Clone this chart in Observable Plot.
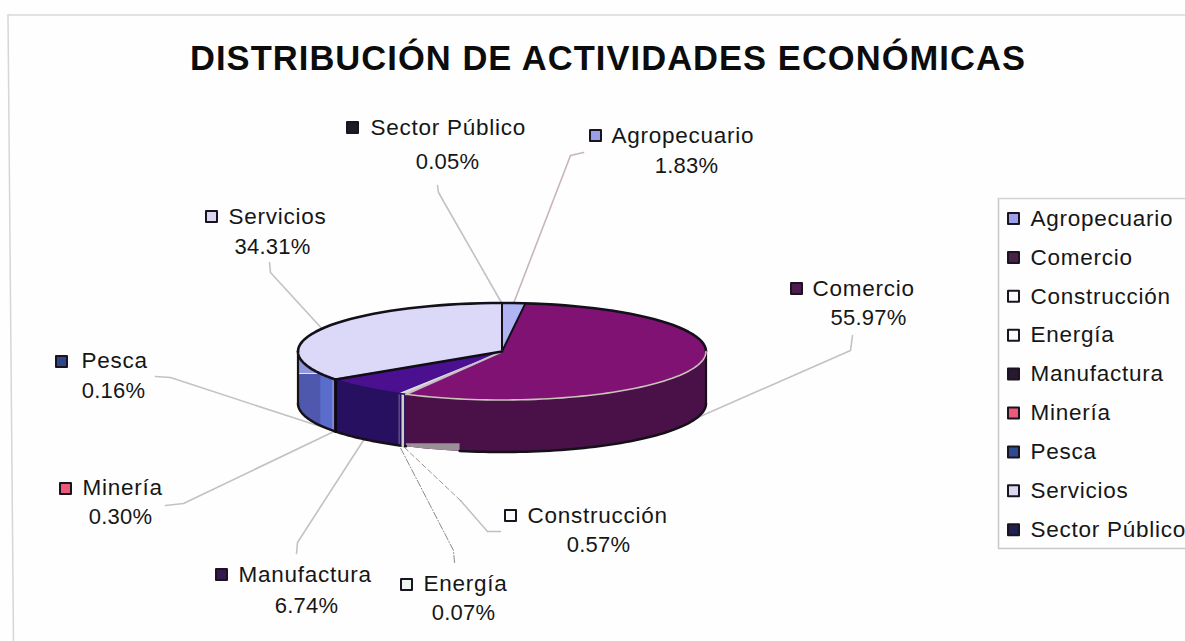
<!DOCTYPE html>
<html><head><meta charset="utf-8">
<script src="https://cdn.jsdelivr.net/npm/d3@7"></script>
<script src="https://cdn.jsdelivr.net/npm/@observablehq/plot@0.6"></script>
<style>
html,body{margin:0;padding:0;background:#fefefe;overflow:hidden}
svg{display:block}
.names text, text.names, .names{letter-spacing:0.75px}
.pcts text, text.pcts, .pcts{letter-spacing:0.2px}
.ttl text, text.ttl, .ttl{letter-spacing:1.05px}
</style></head><body><div id="c"></div>
<script>
const categories = ["Agropecuario","Comercio","Construcción","Energía","Manufactura","Minería","Pesca","Servicios","Sector Público"];
const shares = [1.83,55.97,0.57,0.07,6.74,0.30,0.16,34.31,0.05];
const shareLabels = ["1.83%","55.97%","0.57%","0.07%","6.74%","0.30%","0.16%","34.31%","0.05%"];
const topColors = ["#b0b4f4","#7f1272","#d8d4d8","#eef2f0","#4a1090","#e85a78","#5464c8","#dcd8f8","#1c2050"];
const wallColors = ["#8a8ed0","#4a1149","#27105f","#27105f","#27105f","#a84060","#5a6ccc","#5a6ccc","#141838"];
const swatchColors = ["#9a9fe8","#4f1c50","#fafafa","#eef6f2","#35184f","#ec5a78","#2f468c","#dcd8f2","#1c1c28"];
const legendColors = ["#9a9fe8","#4a2248","#fafafa","#fafafa","#2a1830","#ec5a78","#2f4a90","#dcd8f0","#1f2250"];

// pie geometry
const cx = 501.5, cy = 351, rx = 204, ry = 48.5, depth = 52;
const rim = (deg, dz = 0) => ({x: cx + rx*Math.sin(deg*Math.PI/180), y: cy - ry*Math.cos(deg*Math.PI/180) + dz});
const arc = (a, b, dz = 0) => d3.range(0, 61).map(i => rim(a + (b-a)*i/60, dz));
let acc = 0;
const slices = shares.map((v,i) => { const s = acc/100*360; acc += v; return {i, s, e: acc/100*360, m:(s+acc/100*360)/2}; });

// label placement
const swatchX = [595,796,510,406,221,65,61,211,352], swatchY = [135,288,515,584,574,488,361,216,127];
const nameX = [611,812,527,423,238,82,81,228,370], nameY = [135,288,515,583,574,487,360,216,127];
const pctX = [686,868,598,463,306,120,113,272,447], pctY = [165,317,544,612,605,516,390,246,161];
const elbowA = [[583,152],[852,335],[500,531],[454,562],[296,553],[165,505],[155,376],[269,262],[437,185]];
const elbowB = [[570,155],[850,350],[487,531],[453,550],[297,542],[183,503],[170,377],[270,272],[438,192]];

const leaderEnd = i => { const m = slices[i].m; return rim(m, (m>90 && m<270) ? depth : 0); };
const leaders = categories.map((c,i) => [{x:elbowA[i][0],y:elbowA[i][1]},{x:elbowB[i][0],y:elbowB[i][1]},leaderEnd(i)]);

const poly = (pts, o) => Plot.line(pts, {x:"x", y:"y", curve:"linear-closed", ...o});
const open = (pts, o) => Plot.line(pts, {x:"x", y:"y", curve:"linear", ...o});

const marks = [];
// frame (the scanned frame leans slightly)
marks.push(open([{x:7.5,y:14.5},{x:13,y:641}],{stroke:"#d6d6d6",strokeWidth:1.5}));
marks.push(Plot.ruleY([14.5],{x1:7.5,x2:1185,stroke:"#d8d8d8",strokeWidth:1.5}));

// leaders
leaders.forEach((l,i) => {
  if (i === 2) {
    const mid = {x:460,y:500};
    marks.push(open([l[1],mid],{stroke:"#c4bec4",strokeWidth:1.5}));
    marks.push(open([l[0],l[1]],{stroke:"#c4bec4",strokeWidth:1.5}));
    marks.push(open([mid,l[2]],{stroke:"#999",strokeWidth:1,strokeDasharray:"5 3"}));
  } else if (i === 3) {
    marks.push(open(l,{stroke:"#8a8a8a",strokeWidth:1,strokeDasharray:"7 2 1 2"}));
  } else {
    marks.push(open(l,{stroke:i===0?"#c8b4bc":"#c6c0c6",strokeWidth:1.6}));
  }
});

// walls (front half)
slices.forEach(s => {
  const a = Math.max(s.s,90), b = Math.min(s.e,270);
  if (b <= a) return;
  marks.push(poly([...arc(a,b),...arc(b,a,depth)],{fill:wallColors[s.i],stroke:"none"}));
});
// shaded left part of the Servicios wall
const bandTop = cy + 22;
const dark = arc(270,243,depth);
marks.push(poly([{x:rim(243).x,y:bandTop},{x:rim(270).x,y:bandTop},...dark],{fill:"#4e58ac",stroke:"none"}));
marks.push(poly([{x:rim(270).x,y:bandTop},{x:rim(243).x,y:bandTop},...arc(243,270)],{fill:"#8f96dc",stroke:"none"}));
marks.push(open([{x:rim(243).x,y:bandTop},{x:rim(270).x,y:bandTop}],{stroke:"#e4e6f6",strokeWidth:1.2}));
// grey sliver under Comercio
const cm = slices[1];
const sl = arc(192,cm.e,depth);
marks.push(poly([...sl,{x:sl[60].x,y:sl[60].y-3},{x:sl[0].x,y:sl[60].y-3}],{fill:"#9a8e98",stroke:"none"}));
// wall outline
marks.push(open(arc(90,192,depth),{stroke:"#161018",strokeWidth:2.5}));
marks.push(open(arc(cm.e,270,depth),{stroke:"#161018",strokeWidth:2.5}));
marks.push(open([rim(90),rim(90,depth)],{stroke:"#161018",strokeWidth:2.2}));
marks.push(open([rim(270),rim(270,depth)],{stroke:"#161018",strokeWidth:2.2}));
// divider lines on wall
marks.push(open([rim(slices[2].m),rim(slices[2].m,depth)],{stroke:"#cfcfc4",strokeWidth:2.6}));
marks.push(open([rim(slices[4].e),rim(slices[4].e,depth)],{stroke:"#0c0818",strokeWidth:3}));

// top slices
slices.forEach(s => {
  marks.push(poly([{x:cx,y:cy},...arc(s.s,s.e)],{fill:topColors[s.i],stroke:"none"}));
});
// top outlines
marks.push(open(arc(-90,90),{stroke:"#14101a",strokeWidth:2.6}));
marks.push(open(arc(90,cm.e),{stroke:"#c8c4b8",strokeWidth:1.6}));
marks.push(open(arc(cm.e,slices[4].e),{stroke:"#27105f",strokeWidth:1.6}));
marks.push(open(arc(slices[4].e,270),{stroke:"#14101a",strokeWidth:2.6}));
marks.push(open([{x:cx,y:cy},rim(0)],{stroke:"#14101a",strokeWidth:2}));
marks.push(open([{x:cx,y:cy},rim(slices[0].e)],{stroke:"#14101a",strokeWidth:2}));
marks.push(open([{x:cx,y:cy},rim(cm.e)],{stroke:"#c8c0c8",strokeWidth:2}));
marks.push(open([{x:cx,y:cy},rim(slices[4].e)],{stroke:"#100c18",strokeWidth:2.6}));

const font = {fontFamily:"Liberation Sans, Arial, sans-serif", fill:"#161616"};
// title
marks.push(Plot.text(["DISTRIBUCIÓN DE ACTIVIDADES ECONÓMICAS"],{x:()=>607.5,y:()=>58,text:d=>d,fontSize:34.5,fontWeight:"bold",className:"ttl",...font,fill:"#0c0c0c"}));

// data labels
const idx = d3.range(categories.length);
const sw = {symbol:"square",r:6.2,stroke:"#1a1420",strokeWidth:2,strokeLinejoin:"round"};
marks.push(Plot.dot(idx,{x:i=>swatchX[i],y:i=>swatchY[i],fill:i=>swatchColors[i],...sw}));
marks.push(Plot.text(idx,{x:i=>nameX[i],y:i=>nameY[i],text:i=>categories[i],textAnchor:"start",fontSize:22.5,className:"names",...font}));
marks.push(Plot.text(idx,{x:i=>pctX[i],y:i=>pctY[i],text:i=>shareLabels[i],textAnchor:"middle",fontSize:22,className:"pcts",...font}));

// legend
marks.push(Plot.ruleX([998],{y1:198,y2:548,stroke:"#c8c8c8",strokeWidth:1.5}));
marks.push(Plot.ruleY([198],{x1:998,x2:1185,stroke:"#d4d4d4",strokeWidth:1.5}));
marks.push(Plot.ruleY([548],{x1:998,x2:1185,stroke:"#c8c8c8",strokeWidth:1.5}));
const legendY = i => 218 + i*38.9;
marks.push(Plot.dot(idx,{x:()=>1013,y:legendY,fill:i=>legendColors[i],...sw}));
marks.push(Plot.text(idx,{x:()=>1030,y:legendY,text:i=>categories[i],textAnchor:"start",fontSize:22.5,className:"names",...font}));

const chart = Plot.plot({
  width:1185,height:641,margin:0,
  x:{domain:[0,1185],range:[0,1185],axis:null},
  y:{domain:[0,641],range:[0,641],axis:null},
  style:{background:"#fefefe"},
  marks
});
document.getElementById("c").append(chart);
</script></body></html>
